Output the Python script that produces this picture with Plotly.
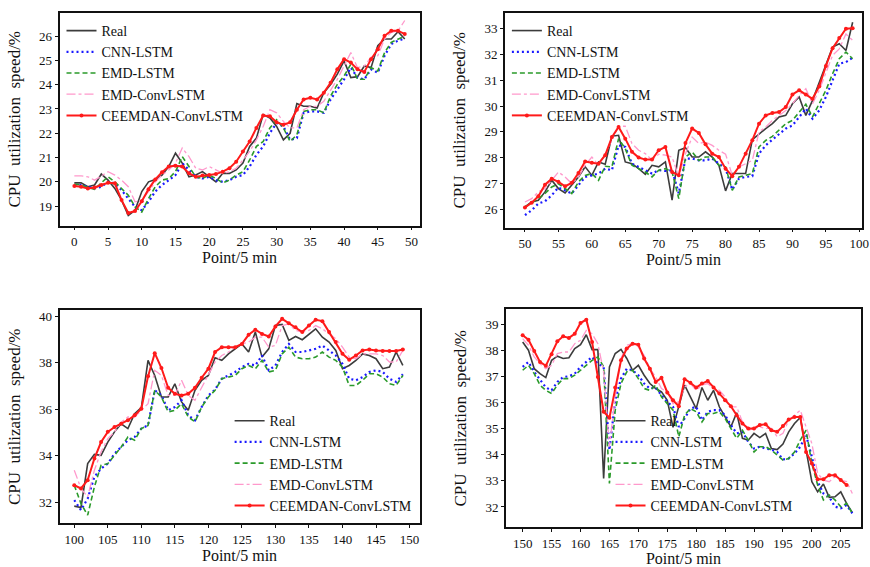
import plotly.graph_objects as go

# ---------------- data ----------------
series_names = ["Real", "CNN-LSTM", "EMD-LSTM", "EMD-ConvLSTM", "CEEMDAN-ConvLSTM"]

x1 = list(range(0, 50))
real1 = [19.96,19.96,19.8,19.87,20.32,20.07,19.73,19.25,18.62,18.83,19.6,20.0,20.1,20.28,20.63,21.18,20.77,20.21,20.28,20.42,20.21,20.0,20.35,20.35,20.49,20.77,21.46,21.8,22.77,22.63,22.28,21.73,22.0,23.22,23.11,23.11,23.04,23.67,24.01,24.43,24.98,24.29,24.33,24.77,24.7,25.6,25.88,25.88,26.18,25.88]
cnn1 = [19.87,19.87,19.8,19.73,19.8,20.0,19.94,19.66,19.31,18.97,18.83,19.18,19.6,19.87,20.07,20.28,20.77,20.49,20.21,20.14,20.21,20.07,20.0,20.07,20.21,20.28,20.63,21.11,21.46,22.01,22.42,22.28,21.73,21.8,22.84,22.9,22.9,22.84,23.39,23.8,24.22,24.7,24.29,24.22,24.63,24.49,25.19,25.67,25.81,25.9]
emd1 = [19.9,19.87,19.77,19.69,19.96,20.21,20.0,19.73,19.45,18.97,18.76,19.31,19.8,20.07,20.14,20.42,21.04,20.63,20.21,20.14,20.28,20.14,19.96,20.07,20.28,20.42,20.9,21.46,21.66,22.22,22.56,22.22,21.66,21.94,22.9,22.97,22.97,22.84,23.53,24.01,24.36,24.84,24.22,24.22,24.7,24.56,25.32,25.74,25.88,26.0]
emdconv1 = [20.25,20.25,20.21,20.07,20.24,20.42,20.28,20.07,19.8,19.18,19.25,19.6,20.0,20.28,20.49,20.77,21.39,21.04,20.56,20.49,20.63,20.49,20.35,20.42,20.56,20.9,21.25,21.73,22.28,22.97,22.84,22.49,22.22,22.22,22.97,23.11,23.11,23.32,23.8,24.22,24.77,25.32,24.7,24.77,25.12,25.19,25.88,26.15,26.22,26.64]
ceem1 = [19.83,19.8,19.73,19.77,19.87,19.96,19.94,19.25,18.72,18.8,19.2,19.7,20.1,20.4,20.63,20.66,20.63,20.35,20.21,20.26,20.28,20.32,20.42,20.56,20.83,21.25,21.66,22.22,22.73,22.7,22.45,22.35,22.45,22.97,23.39,23.46,23.39,23.67,24.08,24.63,25.05,24.91,24.63,24.52,25.05,25.46,26.01,26.22,26.22,26.08]

x2 = list(range(50, 100))
real2 = [26.1,26.29,26.36,26.68,27.13,26.81,26.64,26.94,27.26,27.65,27.32,27.84,27.75,28.83,28.87,27.84,27.77,27.58,27.36,27.71,27.65,27.84,26.36,28.29,28.39,28.03,28.03,28.23,28.03,27.71,26.72,27.39,27.39,27.39,28.7,28.93,29.13,29.32,29.58,29.64,30.09,30.35,29.64,30.22,30.93,31.64,32.28,32.41,32.15,33.24]
cnn2 = [25.78,25.97,26.23,26.32,26.55,26.85,26.74,26.62,26.94,27.26,27.32,27.39,27.58,27.52,28.48,28.42,27.77,27.65,27.52,27.39,27.52,27.49,27.52,26.62,27.97,27.97,27.9,27.9,27.97,27.77,27.58,26.77,27.2,27.26,27.29,28.16,28.48,28.7,28.93,29.13,29.25,29.58,29.9,29.51,29.83,30.35,30.99,31.64,31.7,31.87]
emd2 = [26.1,26.26,26.42,26.62,26.87,27.0,26.81,26.62,27.07,27.32,27.39,27.13,27.67,27.65,28.74,28.35,27.71,27.58,27.45,27.26,27.52,27.58,27.45,26.42,28.03,28.23,27.9,28.03,28.03,27.71,27.65,26.74,27.26,27.32,27.39,28.42,28.67,28.83,29.06,29.32,29.45,29.77,30.07,29.58,30.09,30.61,31.25,31.83,32.09,31.83]
emdconv2 = [26.29,26.42,26.68,26.81,27.13,27.45,27.26,27.0,27.26,27.71,28.03,27.71,28.16,28.67,29.22,29.22,28.55,28.29,28.16,27.91,28.14,28.1,28.03,27.26,28.16,28.8,28.55,28.61,28.48,28.29,28.14,27.32,27.65,27.77,27.9,29.0,29.19,29.45,29.64,29.83,30.09,30.41,30.67,30.09,30.61,31.25,31.96,32.21,32.79,32.54]
ceem2 = [26.08,26.26,26.51,26.96,27.19,27.07,26.9,27.03,27.41,27.86,27.81,27.77,28.1,28.8,29.19,28.74,28.23,28.01,27.93,27.93,28.29,28.42,27.45,27.32,28.57,29.13,28.96,28.52,28.16,28.03,27.58,27.29,27.65,28.16,28.68,29.32,29.64,29.73,29.77,29.96,30.45,30.61,30.45,30.28,30.76,31.55,32.24,32.63,32.99,33.01]

x3 = list(range(100, 150))
real3 = [31.83,31.77,33.66,34.06,34.02,34.59,35.03,35.38,35.17,35.81,36.07,38.11,37.46,36.53,36.53,37.1,36.32,35.96,36.82,37.25,37.46,38.22,38.11,38.39,38.61,38.82,38.47,39.33,38.25,38.61,39.61,39.66,38.97,39.14,39.0,39.25,39.47,39.11,38.9,38.54,37.75,37.89,38.11,38.39,38.32,38.18,37.75,37.82,38.47,37.89]
cnn3 = [32.09,31.66,32.16,33.09,33.45,33.66,34.09,34.38,34.67,34.81,35.17,35.31,36.82,36.6,35.96,36.1,36.39,35.74,35.53,36.1,36.6,36.85,37.32,37.46,37.61,37.82,37.96,37.89,38.32,37.68,37.89,38.47,38.82,38.47,38.47,38.54,38.61,38.75,38.54,38.32,37.96,37.32,37.25,37.39,37.61,37.68,37.61,37.32,37.18,37.51]
emd3 = [32.73,31.94,31.44,32.66,33.59,33.66,34.02,34.38,34.81,34.67,35.17,35.31,36.82,36.53,35.89,35.96,36.24,35.67,35.46,36.1,36.53,36.82,37.32,37.39,37.46,37.75,37.89,37.75,38.11,37.61,37.68,38.39,38.68,38.25,38.18,38.18,38.25,38.47,38.25,38.11,37.82,37.03,37.03,37.25,37.53,37.53,37.39,37.1,37.03,37.46]
emdconv3 = [33.38,32.59,32.23,33.38,34.17,34.74,35.03,35.45,35.67,35.67,35.96,36.24,37.68,37.46,36.6,36.6,37.25,36.6,36.39,36.96,37.46,38.04,38.32,38.47,38.68,38.82,38.9,39.11,39.11,38.68,38.75,39.61,39.68,39.4,39.33,39.4,39.61,39.47,39.25,39.04,38.68,38.25,38.18,38.39,38.39,38.39,38.32,38.04,38.04,38.54]
ceem3 = [32.73,32.59,32.95,33.88,34.59,35.03,35.24,35.38,35.53,35.74,36.03,37.42,38.42,37.78,36.93,36.67,36.6,36.67,36.93,37.36,37.75,38.47,38.68,38.68,38.68,38.82,39.21,39.43,39.25,39.14,39.57,39.9,39.71,39.54,39.33,39.61,39.86,39.8,39.33,38.9,38.39,38.14,38.32,38.54,38.58,38.54,38.51,38.51,38.51,38.58]

x4 = list(range(150, 208))
real4 = [38.32,38.01,37.3,37.11,36.96,37.62,37.78,37.69,37.72,38.07,38.22,38.6,38.03,38.03,33.09,37.37,37.88,38.04,37.69,37.24,37.43,37.05,36.73,36.54,36.41,36.09,35.05,35.84,36.67,36.22,35.77,36.58,36.09,36.47,35.84,35.45,35.07,35.61,34.63,34.56,34.82,34.66,34.82,34.24,34.2,34.41,34.88,35.2,35.43,34.18,32.97,32.58,32.88,32.37,32.39,32.58,32.14,31.78]
cnn4 = [37.37,37.56,37.18,36.86,36.58,36.47,36.79,36.98,37.01,37.11,37.37,37.56,37.75,37.49,37.37,34.18,36.09,36.92,37.3,37.24,37.05,36.73,36.54,36.58,36.28,36.03,35.84,35.07,35.39,35.77,35.84,35.33,35.65,35.71,35.71,35.52,35.14,34.82,34.88,34.5,34.24,34.31,34.24,34.2,34.11,33.82,33.86,34.05,34.31,34.75,33.92,32.97,32.52,32.39,32.01,31.95,32.07,31.76]
emd4 = [37.24,37.43,37.11,36.67,36.47,36.35,36.67,36.92,36.92,37.05,37.24,37.43,37.62,37.75,37.37,32.9,35.71,36.73,37.18,37.24,36.92,36.54,36.47,36.67,36.22,35.96,35.71,34.69,35.52,35.77,35.65,35.26,35.58,35.58,35.65,35.39,35.01,34.63,34.94,34.56,34.11,34.31,34.31,34.18,33.99,33.8,33.86,34.11,34.56,34.94,33.67,32.84,32.27,32.46,32.27,32.01,32.14,31.76]
emdconv4 = [38.45,38.2,37.75,37.49,37.3,37.43,37.88,37.94,37.94,38.26,38.39,38.77,38.64,38.26,37.18,34.31,36.22,37.69,38.2,38.26,38.13,37.81,37.3,36.98,36.54,36.41,35.96,36.03,36.6,36.73,36.47,36.67,36.73,36.54,36.47,36.22,35.84,35.84,35.26,34.94,35.01,35.07,35.01,35.01,34.69,34.82,35.33,35.52,35.71,35.07,34.43,33.29,33.03,32.97,33.16,33.03,32.97,32.52]
ceem4 = [38.58,38.41,37.98,37.56,37.41,37.85,38.35,38.54,38.48,38.64,39.05,39.18,38.32,36.98,35.65,35.42,36.58,37.62,38.07,38.26,38.22,37.69,37.3,36.79,36.95,36.39,36.09,35.86,36.9,36.76,36.58,36.73,36.83,36.58,36.35,36.09,35.86,35.52,35.2,35.01,35.01,35.14,35.17,34.94,34.88,35.1,35.35,35.45,35.45,34.11,33.67,33.06,33.06,33.22,33.22,33.03,32.84]

x_title = "Point/5\u00a0min"
y_title = "CPU\u00a0\u00a0utilization\u00a0\u00a0speed/%"

# ---------------- styling ----------------
FONT = "Times New Roman, Liberation Serif, DejaVu Serif, serif"
styles = {
    "Real": dict(line=dict(color="#3c3c3c", width=1.6), mode="lines"),
    "CNN-LSTM": dict(line=dict(color="#1a1aff", width=2.2, dash="2px,3px"), mode="lines"),
    "EMD-LSTM": dict(line=dict(color="#2a9a2a", width=1.6, dash="5px,3px"), mode="lines"),
    "EMD-ConvLSTM": dict(line=dict(color="#ff99cc", width=1.3, dash="dashdot"), mode="lines"),
    "CEEMDAN-ConvLSTM": dict(line=dict(color="#ff1a1a", width=2), mode="lines+markers",
                             marker=dict(size=4, color="#ff1a1a")),
}

panels = [
    (x1, [real1, cnn1, emd1, emdconv1, ceem1], "x", "y", "legend"),
    (x2, [real2, cnn2, emd2, emdconv2, ceem2], "x2", "y2", "legend2"),
    (x3, [real3, cnn3, emd3, emdconv3, ceem3], "x3", "y3", "legend3"),
    (x4, [real4, cnn4, emd4, emdconv4, ceem4], "x4", "y4", "legend4"),
]

fig = go.Figure()
for xs, ys_list, xa, ya, lg in panels:
    for rank, (name, ys) in enumerate(zip(series_names, ys_list)):
        st = styles[name]
        fig.add_trace(go.Scatter(
            x=xs[:len(ys)], y=ys, name=name, xaxis=xa, yaxis=ya, legend=lg,
            legendrank=rank + 1, **st))

W, H = 870, 567
def dx(a, b):
    return [a / W, b / W]
def dy(top, bottom):
    return [1 - bottom / H, 1 - top / H]

axis_common = dict(showline=True, linecolor="#111", linewidth=1.7, mirror=True,
                   ticks="outside", ticklen=3, tickcolor="#111", showgrid=False,
                   zeroline=False, ticklabeloverflow="allow",
                   tickfont=dict(family=FONT, size=13, color="#111"))

def xa(domain, rng, anchor, dtick=5, tick0=0):
    return dict(domain=domain, range=rng, anchor=anchor, dtick=dtick, tick0=tick0,
                title=dict(text=x_title, font=dict(family=FONT, size=16, color="#111"), standoff=3),
                **axis_common)

def ya(domain, rng, anchor, dtick=1):
    return dict(domain=domain, range=rng, anchor=anchor, dtick=dtick,
                title=dict(text=y_title, font=dict(family=FONT, size=17, color="#111"), standoff=14),
                **axis_common)

leg_common = dict(bgcolor="rgba(0,0,0,0)", borderwidth=0,
                  font=dict(family=FONT, size=14, color="#111"), tracegroupgap=0)

fig.update_layout(
    width=W, height=H,
    margin=dict(l=0, r=0, t=0, b=0),
    paper_bgcolor="white", plot_bgcolor="white",
    xaxis=xa(dx(60, 423), [-2.2, 51.2], "y"),
    yaxis=ya(dy(12, 225), [18.2, 26.95], "x"),
    xaxis2=xa(dx(509, 869), [47.0, 100.4], "y2"),
    yaxis2=ya(dy(12, 227), [25.3, 33.6], "x2"),
    xaxis3=xa(dx(60, 423), [97.8, 151.5], "y3"),
    yaxis3=ya(dy(310, 523), [31.1, 40.26], "x3", dtick=2),
    xaxis4=xa(dx(510, 868), [147.1, 208.5], "y4"),
    yaxis4=ya(dy(309, 527), [31.23, 39.57], "x4"),
    legend=dict(x=62 / W, y=1 - 14 / H, xanchor="left", yanchor="top", **leg_common),
    legend2=dict(x=511 / W, y=1 - 14 / H, xanchor="left", yanchor="top", **leg_common),
    legend3=dict(x=421 / W, y=1 - 521 / H, xanchor="right", yanchor="bottom", **leg_common),
    legend4=dict(x=805 / W, y=1 - 521 / H, xanchor="right", yanchor="bottom", **leg_common),
    showlegend=True,
)

fig.write_html("out.html", config={"displayModeBar": False},
               post_script="document.body.style.margin='0';document.body.style.overflow='hidden';")
